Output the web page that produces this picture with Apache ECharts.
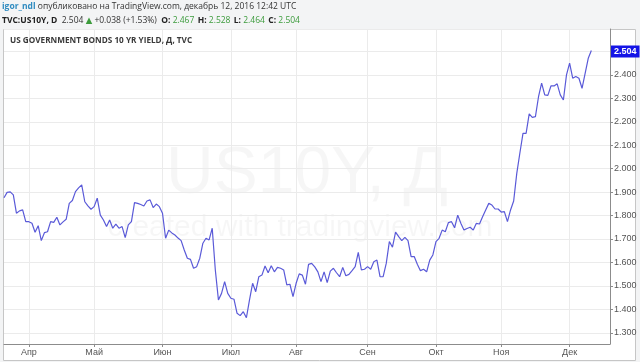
<!DOCTYPE html>
<html><head><meta charset="utf-8">
<script src="https://cdn.jsdelivr.net/npm/echarts@6/dist/echarts.min.js"></script>
<style>html,body{margin:0;padding:0;background:#f3f4f5;} #c{width:640px;height:362px;}</style>
</head><body><div id="c"></div>
<script>
// ---- data ----
const startDate = '2016-03-22';   // first visible trading day
const trailingDays = 6;           // empty trading days on the right of the last bar
const yields = [
1.876,1.899,1.901,1.888,1.810,1.820,1.824,1.774,1.774,1.767,
1.729,1.757,1.693,1.727,1.731,1.774,1.771,1.793,1.760,1.773,
1.784,1.852,1.864,1.902,1.918,1.931,1.859,1.841,1.827,1.838,
1.874,1.802,1.781,1.753,1.781,1.746,1.763,1.746,1.753,1.706,
1.760,1.774,1.855,1.852,1.847,1.841,1.862,1.867,1.834,1.849,
1.838,1.810,1.703,1.738,1.726,1.717,1.704,1.693,1.653,1.618,
1.613,1.575,1.582,1.618,1.682,1.703,1.696,1.746,1.568,1.440,
1.468,1.518,1.468,1.447,1.443,1.383,1.373,1.390,1.364,1.440,
1.511,1.475,1.539,1.546,1.585,1.556,1.586,1.560,1.579,1.575,
1.568,1.504,1.507,1.454,1.511,1.551,1.546,1.507,1.592,1.596,
1.581,1.560,1.518,1.560,1.514,1.563,1.575,1.556,1.539,1.579,
1.543,1.549,1.565,1.582,1.643,1.568,1.571,1.582,1.571,1.603,
1.610,1.539,1.539,1.596,1.689,1.665,1.729,1.710,1.693,1.707,
1.693,1.625,1.625,1.592,1.565,1.571,1.560,1.610,1.632,1.689,
1.703,1.738,1.731,1.770,1.774,1.748,1.802,1.767,1.738,1.745,
1.750,1.738,1.767,1.764,1.795,1.824,1.852,1.845,1.828,1.828,
1.815,1.817,1.774,1.824,1.862,1.980,2.067,2.151,2.151,2.234,
2.219,2.222,2.307,2.365,2.315,2.313,2.353,2.353,2.362,2.315,
2.293,2.400,2.450,2.386,2.393,2.386,2.343,2.407,2.471,2.504
];
const monthNames = ['Янв','Фев','Мар','Апр','Май','Июн','Июл','Авг','Сен','Окт','Ноя','Дек'];
const yMin = 1.252, yMax = 2.596, yStep = 0.1;
const headerUser = 'igor_ndl';
const headerText = ' опубликовано на TradingView.com, декабрь 12, 2016 12:42 UTC';
const symbolText = 'TVC:US10Y, D';
const quote = {last: '2.504', change: '+0.038 (+1.53%)', O: '2.467', H: '2.528', L: '2.464', C: '2.504'};
const chartTitle = 'US GOVERNMENT BONDS 10 YR YIELD, Д, TVC';
const watermark1 = 'US10Y, Д';
const watermark2 = 'created with tradingview.com';

// ---- categories: trading days (weekdays) ----
function weekdays(start, n) {
  const out = []; const d = new Date(start + 'T00:00:00Z');
  while (out.length < n) {
    const w = d.getUTCDay();
    if (w !== 0 && w !== 6) out.push(d.toISOString().slice(0, 10));
    d.setUTCDate(d.getUTCDate() + 1);
  }
  return out;
}
const dates = weekdays(startDate, yields.length + trailingDays);
const isMonthStart = (i) => i > 0 && dates[i].slice(5, 7) !== dates[i - 1].slice(5, 7);
const lastValue = yields[yields.length - 1];

const font = 'Open Sans, DejaVu Sans, sans-serif';
const axisFont = 'Liberation Sans, Arial, sans-serif';
const chart = echarts.init(document.getElementById('c'), null, {renderer: 'canvas'});
chart.setOption({
  animation: false,
  backgroundColor: '#f3f4f5',
  textStyle: {fontFamily: axisFont},
  grid: {left: 4, right: 30, top: 29, bottom: 18, containLabel: false},
  graphic: [
    {type: 'rect', z: -10, shape: {x: 3.5, y: 29.5, width: 632, height: 331},
     style: {fill: '#ffffff', stroke: '#c6c6c6', lineWidth: 1}},
    {type: 'text', left: 2, top: 2, z: 10, style: {
      text: '{u|' + headerUser + '}{t|' + headerText + '}',
      rich: {u: {fill: '#2f8bc0', fontWeight: 'bold', fontSize: 8.5, fontFamily: font},
             t: {fill: '#333', fontSize: 8.5, fontFamily: font}}}},
    {type: 'text', left: 2, top: 15, z: 10, style: {
      text: '{b|' + symbolText + '}{t|  ' + quote.last + ' }{g|▲}{t| ' + quote.change + '  }' +
            '{b|O:}{g| ' + quote.O + '} {b|H:}{g| ' + quote.H + '} {b|L:}{g| ' + quote.L + '} {b|C:}{g| ' + quote.C + '}',
      rich: {b: {fill: '#222', fontWeight: 'bold', fontSize: 8.5, fontFamily: font},
             t: {fill: '#333', fontSize: 8.5, fontFamily: font},
             g: {fill: '#3c9b3c', fontSize: 8.5, fontFamily: font}}}},
    {type: 'text', left: 10, top: 37, z: 10, style: {
      text: chartTitle, fill: '#3a3a3a', fontSize: 8.2, fontWeight: 'bold', fontFamily: font}},
    {type: 'text', x: 307, y: 175, z: -5, style: {
      text: watermark1, fill: 'rgba(0,0,0,0.035)', fontSize: 66, fontFamily: axisFont,
      align: 'center', verticalAlign: 'middle'}},
    {type: 'text', x: 300, y: 228, z: -5, style: {
      text: watermark2, fill: 'rgba(0,0,0,0.035)', fontSize: 30, fontFamily: axisFont,
      align: 'center', verticalAlign: 'middle'}}
  ],
  xAxis: {
    type: 'category', data: dates, boundaryGap: false,
    axisLine: {lineStyle: {color: '#8c8c8c'}},
    axisTick: {show: true, interval: isMonthStart, length: 3, lineStyle: {color: '#8c8c8c'}},
    axisLabel: {interval: isMonthStart, color: '#555', fontSize: 9, margin: 4,
      formatter: v => monthNames[+v.slice(5, 7) - 1]},
    splitLine: {show: true, interval: isMonthStart, lineStyle: {color: '#ebebeb', width: 1}}
  },
  yAxis: {
    type: 'value', position: 'right', min: yMin, max: yMax,
    splitNumber: 13, minInterval: yStep, maxInterval: yStep, scale: true,
    axisLine: {show: true, lineStyle: {color: '#8c8c8c'}},
    axisTick: {show: true, length: 3, lineStyle: {color: '#8c8c8c'}},
    axisLabel: {showMinLabel: false, showMaxLabel: false, color: '#555', fontSize: 9, margin: 4,
      formatter: v => (Math.abs(v - 2.5) < 1e-6 ? '' : v.toFixed(3))},
    splitLine: {show: true, lineStyle: {color: '#ebebeb', width: 1}}
  },
  series: [{
    type: 'line', data: yields, showSymbol: false, symbol: 'none',
    lineStyle: {color: '#5a5ad8', width: 1.2},
    markLine: {
      silent: true, symbol: ['none', 'none'], animation: false,
      lineStyle: {color: 'rgba(0,0,0,0)', width: 0.1, type: 'solid'},
      data: [{yAxis: lastValue}],
      label: {show: true, position: 'end', distance: 1, formatter: lastValue.toFixed(3),
        backgroundColor: '#1414e6', color: '#fff', fontSize: 9, fontWeight: 'bold',
        padding: [2, 3, 1, 3], fontFamily: axisFont}
    }
  }]
});
</script></body></html>
